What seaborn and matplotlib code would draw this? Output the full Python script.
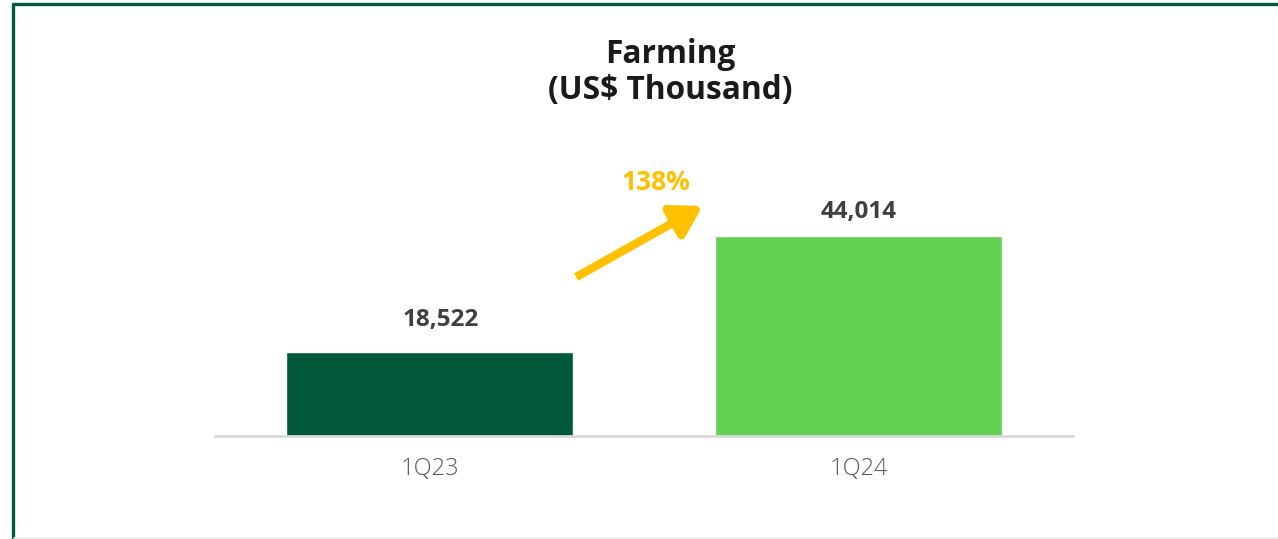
import matplotlib
matplotlib.use("Agg")
import matplotlib.pyplot as plt
from matplotlib.lines import Line2D
import seaborn as sns
import pandas as pd

# Quarterly farming revenue
quarters = ["1Q23", "1Q24"]
revenue = [18522, 44014]
growth_label = "138%"

bar_colors = ["#02593A", "#63D052"]
df = pd.DataFrame({"quarter": quarters, "revenue": revenue})

sns.set_theme(style="white")
plt.rcParams["font.family"] = ["Open Sans", "DejaVu Sans"]

W, H, DPI = 1278, 539, 100
fig = plt.figure(figsize=(W / DPI, H / DPI), dpi=DPI)
fig.patch.set_facecolor("white")

ax = fig.add_axes([215 / W, (H - 436) / H, 858 / W, 306 / H])
sns.barplot(data=df, x="quarter", y="revenue", hue="quarter",
            palette=bar_colors, width=0.667, legend=False, ax=ax,
            saturation=1)

ax.set_xlim(-0.5, 1.5)
ax.set_ylim(0, 67320)
ax.set_xlabel("")
ax.set_ylabel("")
ax.set_yticks([])
for side in ["top", "right", "left"]:
    ax.spines[side].set_visible(False)
ax.spines["bottom"].set_color("#D9D9D9")
ax.spines["bottom"].set_linewidth(2)
ax.tick_params(axis="x", length=0, pad=15, labelsize=17, labelcolor="#595959")
for lbl in ax.get_xticklabels():
    lbl.set_fontweight("light")

# Value labels above bars (baseline offsets in pixels)
label_offsets = [(11, 26), (0, 18)]
for i, (v, off) in enumerate(zip(revenue, label_offsets)):
    ax.annotate(f"{v:,}", xy=(i, v), xytext=off, textcoords="offset pixels",
                ha="center", va="baseline", fontsize=17.5, fontweight="bold",
                color="#404040")

# Growth arrow
ax.annotate("", xy=(0.637, 50600), xytext=(0.342, 34980),
            arrowprops=dict(arrowstyle="-|>,head_length=1.5,head_width=0.9",
                            color="#FFC000", lw=6, shrinkA=0, shrinkB=0,
                            capstyle="butt"))
ax.text(0.528, 55880, growth_label, ha="center", va="center", fontsize=19,
        fontweight="bold", color="#FFC000")

fig.text(670 / W, 1 - 72.5 / H, "Farming\n(US$ Thousand)", ha="center",
         va="center", fontsize=22.8, fontweight="bold", color="#1A1A1A",
         linespacing=1.1)

# Frame lines
green = "#005A3C"
fig.add_artist(Line2D([13 / W, 13 / W], [0, 1 - 3 / H], transform=fig.transFigure,
                      color=green, lw=2.4, solid_capstyle="butt"))
fig.add_artist(Line2D([12 / W, 1], [1 - 4 / H, 1 - 4 / H], transform=fig.transFigure,
                      color=green, lw=2.4, solid_capstyle="butt"))
fig.add_artist(Line2D([14 / W, 1], [0.6 / H, 0.6 / H], transform=fig.transFigure,
                      color="#EEEEEE", lw=1.2))

fig.savefig("out.png", dpi=DPI, facecolor="white")
